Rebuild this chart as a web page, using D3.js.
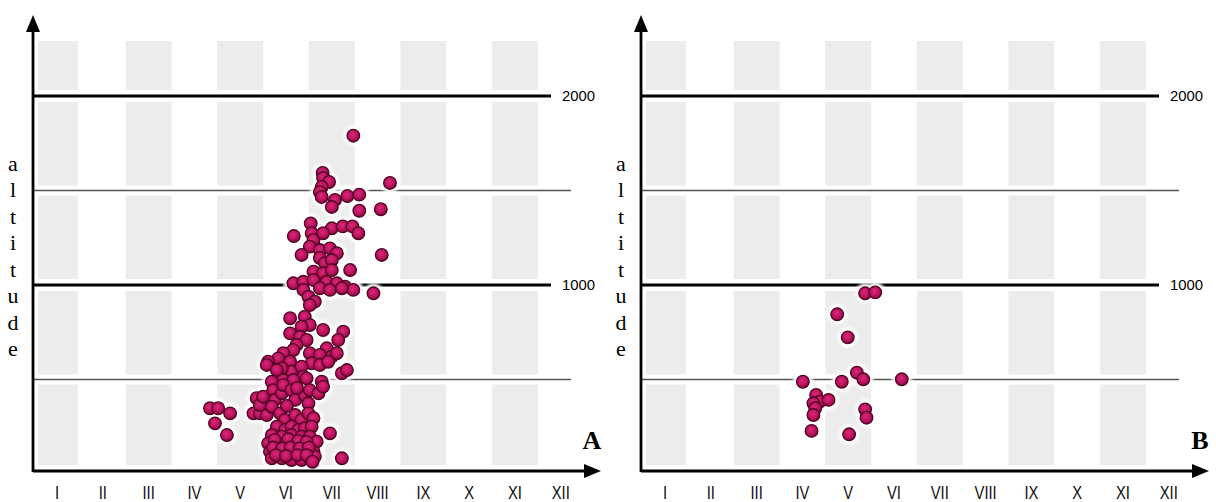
<!DOCTYPE html>
<html>
<head>
<meta charset="utf-8">
<script src="https://cdn.jsdelivr.net/npm/d3@7"></script>
<style>
html,body{margin:0;padding:0;background:#fff;}
svg{display:block;}
</style>
</head>
<body>
<svg id="chart" width="1216" height="502"></svg>
<script>
// ---- data ----
const monthLabels = ["I","II","III","IV","V","VI","VII","VIII","IX","X","XI","XII"];
const refLines = [2000, 1500, 1000, 500];
const refLabels = ["2000", "", "1000", ""];
const axisLetters = ["a","l","t","i","t","u","d","e"];
const panelNames = ["A", "B"];

// Panel A: month position (decimal) and altitude (m)
const monthA = [7.47,6.80,6.81,6.94,6.78,6.74,6.78,8.27,7.07,7.00,7.34,7.60,7.60,8.07,6.54,7.00,7.24,7.45,
  6.56,6.60,6.81,7.58,6.17,6.52,6.74,6.96,7.11,6.34,8.09,6.74,6.85,7.00,7.40,6.60,6.81,7.00,
  6.16,6.38,6.60,6.89,7.11,7.29,7.47,6.38,6.49,6.63,7.91,6.74,6.96,7.22,6.52,6.09,6.41,6.52,6.34,
  7.25,7.14,6.09,6.31,6.45,6.81,6.89,6.23,6.16,5.94,5.83,5.61,5.58,6.52,6.74,7.00,7.11,6.56,6.74,6.92,
  6.09,6.12,5.91,5.80,6.34,6.38,7.22,7.33,5.94,6.16,6.45,6.78,5.69,
  4.34,4.52,4.78,4.45,4.71,5.36,5.29,5.43,5.58,5.43,5.50,5.72,5.76,5.91,5.94,6.12,6.20,6.41,6.52,6.71,6.81,6.49,
  5.69,5.87,5.98,6.20,6.34,6.49,6.60,5.80,5.98,6.12,6.27,6.41,6.56,6.96,
  5.69,5.91,6.12,6.34,6.52,5.61,5.80,5.98,6.20,6.38,6.56,6.67,5.65,5.83,6.05,6.20,6.41,6.60,
  5.69,5.91,6.12,6.34,6.52,6.63,7.22,
  5.75,6.05,6.27,6.45,5.72,5.92,6.10,6.30,6.50,5.78,6.00,6.25,6.45,6.58,6.02,6.24];
const altA = [1790,1593,1566,1545,1519,1492,1466,1540,1450,1413,1471,1478,1393,1401,1326,1300,1310,1310,
  1274,1238,1274,1274,1259,1203,1185,1194,1168,1159,1159,1143,1116,1132,1079,1070,1062,1079,
  1009,1017,1026,1017,1009,991,974,974,938,912,956,983,974,983,894,824,832,788,779,
  753,709,744,726,709,762,665,683,656,639,612,594,577,639,630,621,639,586,577,594,
  594,541,559,550,568,515,533,550,497,497,506,488,488,
  348,348,321,268,206,401,321,321,312,365,409,444,392,427,471,444,392,418,444,427,462,374,
  356,321,286,312,286,321,295,250,233,250,233,242,250,215,
  206,197,206,197,197,162,153,162,153,162,153,171,118,118,127,118,118,118,
  83,83,74,74,83,92,83,
  180,185,175,170,140,135,140,135,140,100,95,100,100,65,360,455];

// Panel B
const monthB = [5.37,5.59,4.76,4.99,5.19,5.33,4.01,4.86,6.17,4.30,4.38,4.24,4.57,4.28,4.24,5.37,5.40,4.20,5.02];
const altB = [956,961,845,723,536,501,488,488,501,418,383,374,392,348,312,342,298,228,210];

// ---- drawing ----
const svg = d3.select("#chart");
const defs = svg.append("defs");
const grad = defs.append("radialGradient").attr("id","dotGrad").attr("cx","45%").attr("cy","40%").attr("r","60%");
grad.append("stop").attr("offset","0%").attr("stop-color","#da2a7c");
grad.append("stop").attr("offset","65%").attr("stop-color","#b8105c");
grad.append("stop").attr("offset","100%").attr("stop-color","#7c0839");
const blur = defs.append("filter").attr("id","halo").attr("x","-50%").attr("y","-50%").attr("width","200%").attr("height","200%");
blur.append("feGaussianBlur").attr("stdDeviation", 1.8);

const x = d3.scaleLinear().domain([1, 12]).range([57, 560.8]);
const y = d3.scaleLinear().domain([0, 2000]).range([474, 96]);
const months = d3.range(1, 13);

function drawPanel(offset, mArr, aArr, name) {
  const g = svg.append("g").attr("transform", `translate(${offset},0)`);
  const axisX = 33, axisY = 471;

  // stripes (odd months)
  g.selectAll("rect.stripe").data(months.filter(m => m % 2 === 1)).enter().append("rect")
    .attr("class","stripe")
    .attr("x", m => Math.max(38, x(m - 0.5)))
    .attr("width", m => x(m + 0.5) - Math.max(38, x(m - 0.5)) - (m === 1 ? 2 : 0))
    .attr("y", 41).attr("height", 465 - 41)
    .attr("fill", "#ececec");

  // white gaps around reference lines
  g.selectAll("line.gap").data(refLines).enter().append("line")
    .attr("x1", axisX).attr("x2", 545)
    .attr("y1", d => y(d)).attr("y2", d => y(d))
    .attr("stroke", "#fff").attr("stroke-width", d => d % 1000 === 0 ? 12 : 10);

  // reference lines
  g.selectAll("line.ref").data(refLines).enter().append("line")
    .attr("x1", axisX).attr("x2", d => d % 1000 === 0 ? 551 : 571)
    .attr("y1", d => y(d)).attr("y2", d => y(d))
    .attr("stroke", d => d % 1000 === 0 ? "#000" : "#555")
    .attr("stroke-width", d => d % 1000 === 0 ? 3 : 1.5);

  g.selectAll("text.ref").data(refLines.map((d,i)=>({v:d,l:refLabels[i]})).filter(d=>d.l)).enter().append("text")
    .attr("x", 562).attr("y", d => y(d.v))
    .attr("dy", "0.35em")
    .attr("font-family", "'Liberation Sans', Arial, sans-serif")
    .attr("font-size", 15)
    .attr("textLength", 33).attr("lengthAdjust","spacingAndGlyphs")
    .text(d => d.l);

  // points: halo then dots
  const pts = mArr.map((m, i) => ({m, a: aArr[i]}));
  g.append("g").attr("filter","url(#halo)").selectAll("circle").data(pts).enter().append("circle")
    .attr("cx", d => x(d.m)).attr("cy", d => y(d.a)).attr("r", 10).attr("fill", "#fff");
  g.append("g").selectAll("circle").data(pts).enter().append("circle")
    .attr("cx", d => x(d.m)).attr("cy", d => y(d.a)).attr("r", 6.3)
    .attr("fill", "url(#dotGrad)").attr("stroke", "#4e0622").attr("stroke-width", 1.3);

  // axes
  g.append("line").attr("x1", axisX).attr("x2", axisX).attr("y1", axisY + 1).attr("y2", 28)
    .attr("stroke","#000").attr("stroke-width", 2.8);
  g.append("path").attr("d", `M${axisX},15 L${axisX-7},32 L${axisX+7},32 Z`).attr("fill","#000");
  g.append("line").attr("x1", axisX).attr("x2", 588).attr("y1", axisY).attr("y2", axisY)
    .attr("stroke","#000").attr("stroke-width", 2.8);
  g.append("path").attr("d", `M601,${axisY} L584,${axisY-7} L584,${axisY+7} Z`).attr("fill","#000");

  // month labels
  g.selectAll("text.month").data(monthLabels).enter().append("text")
    .attr("transform", (d, i) => `translate(${x(i + 1)},493) scale(0.82,1)`)
    .attr("dy","0.35em")
    .attr("text-anchor","middle")
    .attr("font-family","'Liberation Sans', Arial, sans-serif")
    .attr("font-size", 18)
    .attr("fill", "#111")
    .text(d => d);

  // vertical axis title
  g.selectAll("text.letter").data(axisLetters).enter().append("text")
    .attr("x", 13).attr("y", (d, i) => 163 + i * 26.5).attr("dy","0.35em")
    .attr("text-anchor","middle")
    .attr("font-family","'Liberation Serif', 'Times New Roman', serif")
    .attr("font-size", 22)
    .text(d => d);

  // panel letter
  g.append("text").attr("x", 592).attr("y", 440).attr("dy","0.35em")
    .attr("text-anchor","middle")
    .attr("font-family","'Liberation Serif', 'Times New Roman', serif")
    .attr("font-weight","bold").attr("font-size", 26)
    .text(name);
}

drawPanel(0, monthA, altA, panelNames[0]);
drawPanel(608, monthB, altB, panelNames[1]);
</script>
</body>
</html>
